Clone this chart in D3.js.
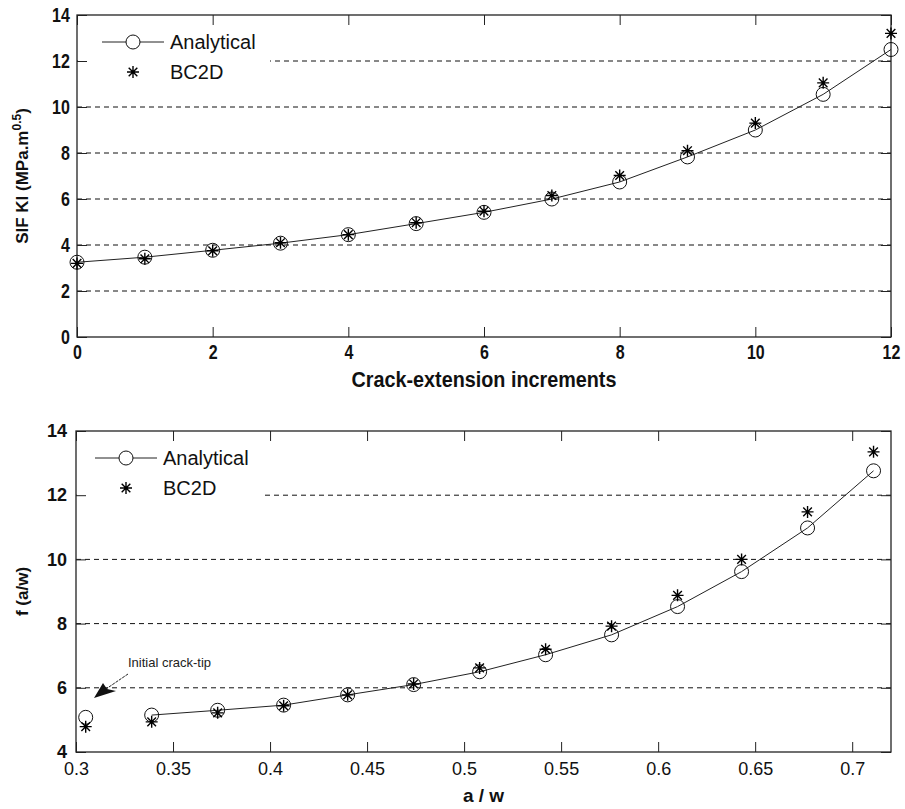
<!DOCTYPE html>
<html>
<head>
<meta charset="utf-8">
<script src="https://cdn.jsdelivr.net/npm/d3@7"></script>
<style>
  body { margin: 0; background: #fff; }
  svg { display: block; }
</style>
</head>
<body>
<svg width="905" height="809"></svg>
<script>
// top chart: SIF vs crack-extension increments
const steps = [0, 1, 2, 3, 4, 5, 6, 7, 8, 9, 10, 11, 12];
const sifAnalytical = [3.25, 3.47, 3.77, 4.08, 4.45, 4.93, 5.42, 6.0, 6.74, 7.83, 9.0, 10.55, 12.5];
const sifBC2D = [3.2, 3.4, 3.75, 4.1, 4.45, 4.97, 5.47, 6.15, 7.02, 8.1, 9.3, 11.05, 13.2];
const topYTicks = [0, 2, 4, 6, 8, 10, 12, 14];
const topXTicks = [0, 2, 4, 6, 8, 10, 12];

// bottom chart: f(a/w) vs a/w
const aw = [0.305, 0.339, 0.373, 0.407, 0.440, 0.474, 0.508, 0.542, 0.576, 0.610, 0.643, 0.677, 0.711];
const fAnalytical = [5.08, 5.15, 5.3, 5.46, 5.78, 6.1, 6.5, 7.03, 7.65, 8.53, 9.62, 10.98, 12.76];
const fBC2D = [4.79, 4.94, 5.22, 5.44, 5.78, 6.12, 6.62, 7.2, 7.92, 8.88, 10.0, 11.48, 13.35];
const botYTicks = [4, 6, 8, 10, 12, 14];
const botXTicks = [0.3, 0.35, 0.4, 0.45, 0.5, 0.55, 0.6, 0.65, 0.7];

const svg = d3.select('svg');
const sans = '"Liberation Sans", Arial, sans-serif';

function starPath(r) {
  const d = r * 0.72;
  return `M${-r},0H${r}M0,${-r}V${r}M${-d},${-d}L${d},${d}M${-d},${d}L${d},${-d}`;
}

function drawPanel(o) {
  const g = svg.append('g');
  const x = d3.scaleLinear().domain(o.xDomain).range([o.left, o.right]);
  const y = d3.scaleLinear().domain(o.yDomain).range([o.bottom, o.top]);

  // dashed grid
  g.selectAll('.grid')
    .data(o.yTicks.filter(t => t > o.yDomain[0] && t < o.yDomain[1]))
    .enter().append('line')
    .attr('x1', o.left).attr('x2', o.right)
    .attr('y1', d => y(d)).attr('y2', d => y(d))
    .attr('stroke', '#111').attr('stroke-width', 1)
    .attr('stroke-dasharray', '5,4');

  // legend background hides grid
  g.append('rect')
    .attr('x', o.left + 1).attr('y', o.top + 1)
    .attr('width', o.legendW).attr('height', 70)
    .attr('fill', '#fff');

  // axes with inward ticks
  const ax = (gen, tr) => g.append('g').attr('transform', tr).call(gen);
  const bx = ax(d3.axisBottom(x).tickValues(o.xTicks).tickSize(-10).tickPadding(o.xPad).tickFormat(o.xFmt),
    `translate(0,${o.bottom})`);
  const ly = ax(d3.axisLeft(y).tickValues(o.yTicks).tickSize(-10).tickPadding(9).tickFormat(d3.format('d')),
    `translate(${o.left},0)`);
  ax(d3.axisTop(x).tickValues(o.xTicks).tickSize(-10).tickFormat(''), `translate(0,${o.top})`);
  ax(d3.axisRight(y).tickValues(o.yTicks).tickSize(-10).tickFormat(''), `translate(${o.right},0)`);
  g.selectAll('.tick line').attr('stroke', '#222');
  g.selectAll('.domain').attr('d', null);
  g.append('rect')
    .attr('x', o.left).attr('y', o.top)
    .attr('width', o.right - o.left).attr('height', o.bottom - o.top)
    .attr('fill', 'none').attr('stroke', '#222').attr('stroke-width', 1.3);

  bx.selectAll('text').attr('font-family', sans).attr('font-weight', o.xWeight)
    .attr('font-size', o.xSize).attr('fill', '#111')
    .attr('transform', `scale(${o.xScale},1)`);
  ly.selectAll('text').attr('font-family', sans).attr('font-weight', 'bold')
    .attr('font-size', o.ySize).attr('fill', '#111')
    .attr('transform', `scale(${o.yScale},1)`);

  // analytical line
  const pts = o.xs.map((v, i) => [v, o.ana[i]]).slice(o.lineFrom);
  g.append('path')
    .attr('d', d3.line().x(d => x(d[0])).y(d => y(d[1]))(pts))
    .attr('fill', 'none').attr('stroke', '#222').attr('stroke-width', 1);

  // analytical circles
  g.selectAll('.ana').data(o.xs).enter().append('circle')
    .attr('cx', d => x(d)).attr('cy', (d, i) => y(o.ana[i])).attr('r', 7)
    .attr('fill', 'none').attr('stroke', '#111').attr('stroke-width', 1);

  // BC2D stars
  g.selectAll('.bc').data(o.xs).enter().append('path')
    .attr('d', starPath(6))
    .attr('transform', (d, i) => `translate(${x(d)},${y(o.bc[i])})`)
    .attr('stroke', '#000').attr('stroke-width', 1.4).attr('fill', 'none');

  // legend
  const lg = g.append('g');
  lg.append('line').attr('x1', o.legX).attr('x2', o.legX + 62)
    .attr('y1', o.top + 27).attr('y2', o.top + 27).attr('stroke', '#222');
  lg.append('circle').attr('cx', o.legX + 31).attr('cy', o.top + 27).attr('r', 7)
    .attr('fill', '#fff').attr('stroke', '#111');
  lg.append('path').attr('d', starPath(6))
    .attr('transform', `translate(${o.legX + 31},${o.top + 57})`)
    .attr('stroke', '#000').attr('stroke-width', 1.4);
  lg.append('text').attr('x', o.legX + 68).attr('y', o.top + 34)
    .attr('font-family', sans).attr('font-size', 20).attr('fill', '#111').text('Analytical');
  lg.append('text').attr('x', o.legX + 68).attr('y', o.top + 64)
    .attr('font-family', sans).attr('font-size', 20).attr('fill', '#111').text('BC2D');

  // axis titles
  const cx = (o.left + o.right) / 2;
  g.append('text')
    .attr('transform', `translate(${cx},${o.bottom + o.xTitleDy}) scale(${o.xTitleScale},1)`)
    .attr('text-anchor', 'middle')
    .attr('font-family', sans).attr('font-weight', 'bold').attr('font-size', o.xTitleSize)
    .attr('fill', '#111').text(o.xTitle);
  const yt = g.append('text')
    .attr('transform', `translate(28,${(o.top + o.bottom) / 2}) rotate(-90)`)
    .attr('text-anchor', 'middle')
    .attr('font-family', sans).attr('font-weight', 'bold').attr('font-size', 17)
    .attr('fill', '#111');
  o.yTitle(yt);
  return { g, x, y };
}

drawPanel({
  left: 77, right: 891, top: 15, bottom: 337,
  xDomain: [0, 12], yDomain: [0, 14],
  xTicks: topXTicks, yTicks: topYTicks, xFmt: d3.format('d'),
  xWeight: 'bold', xSize: 20, xScale: 0.8, xPad: 8, ySize: 20, yScale: 0.8,
  xs: steps, ana: sifAnalytical, bc: sifBC2D, lineFrom: 0,
  legendW: 192, legX: 102,
  xTitle: 'Crack-extension increments', xTitleDy: 50, xTitleSize: 22, xTitleScale: 0.9,
  yTitle: t => {
    t.append('tspan').text('SIF KI (MPa.m');
    t.append('tspan').attr('font-size', 12).attr('dy', -7).text('0.5');
    t.append('tspan').attr('dy', 7).text(')');
  }
});

const bot = drawPanel({
  left: 76, right: 891, top: 431, bottom: 752,
  xDomain: [0.3, 0.72], yDomain: [4, 14],
  xTicks: botXTicks, yTicks: botYTicks, xFmt: d => String(+d.toFixed(2)),
  xWeight: 'normal', xSize: 18, xScale: 1, xPad: 10, ySize: 18, yScale: 1,
  xs: aw, ana: fAnalytical, bc: fBC2D, lineFrom: 1,
  legendW: 184, legX: 95,
  xTitle: 'a / w', xTitleDy: 50, xTitleSize: 19, xTitleScale: 1,
  yTitle: t => t.text('f (a/w)')
});

// annotation
bot.g.append('text')
  .attr('x', 128).attr('y', 667)
  .attr('font-family', sans).attr('font-size', 13).attr('fill', '#222')
  .text('Initial crack-tip');
bot.g.append('line')
  .attr('x1', 128).attr('y1', 674).attr('x2', 106).attr('y2', 689)
  .attr('stroke', '#222').attr('stroke-width', 1).attr('stroke-dasharray', '3,1');
bot.g.append('path')
  .attr('d', 'M94,698L103,683L107,689L116,691Z')
  .attr('fill', '#111');
</script>
</body>
</html>
